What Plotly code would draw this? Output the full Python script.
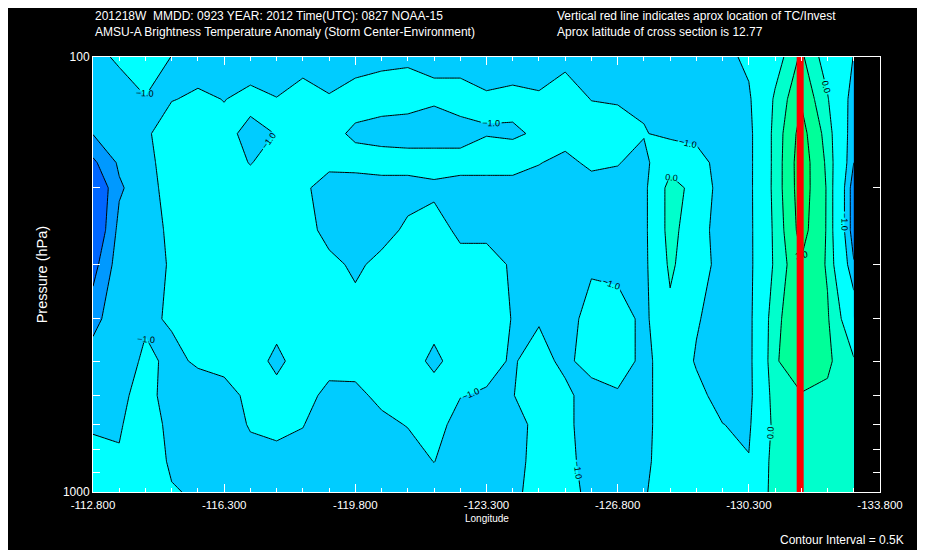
import plotly.graph_objects as go

# ---- grid (longitude columns, pressure levels) ----
lon = [-112.8, -113.5, -114.2, -114.9, -115.6, -116.3, -117.0, -117.7, -118.4, -119.1,
       -119.8, -120.5, -121.2, -121.9, -122.6, -123.3, -124.0, -124.7, -125.4, -126.1,
       -126.8, -127.5, -128.2, -128.9, -129.6, -130.3, -131.0, -131.7, -132.4, -133.1]
pressure = [100, 125, 150, 175, 200, 250, 300, 400, 500, 600, 700, 850, 1000]

# ---- brightness temperature anomaly (K) per pressure level ----
t100 = [-1.25, -0.87, -0.75, -1.01, -1.2, -1.15, -1.2, -1.2, -1.2, -1.2, -1.2, -1.1, -1.05, -1.05, -1.2,
        -1.2, -1.2, -1.2, -1.1, -1.1, -1.2, -1.25, -1.25, -1.25, -1.2, -0.86, -0.3, 0.6, -0.3, -1.02]
t125 = [-1.35, -1.4, -1.02, -1.02, -0.93, -1.01, -0.9, -0.99, -0.8, -0.97, -0.8, -0.8, -0.85, -0.95, -0.8,
        -0.95, -0.9, -0.95, -0.82, -1.01, -1.03, -1.1, -1.25, -1.25, -1.25, -1.1, 0.1, 0.95, 0.05, -1.3]
t150 = [-1.48, -1.3, -1.08, -0.73, -0.8, -0.9, -1.1, -0.99, -0.75, -0.85, -1.09, -1.2, -1.2, -1.2, -1.2,
        -1.02, -1.05, -0.95, -0.8, -0.8, -0.85, -0.96, -1.17, -1.2, -1.25, -1.2, 0.2, 1.2, 0.3, -1.4]
t175 = [-2.11, -1.42, -1.15, -0.76, -0.75, -0.8, -1.02, -0.8, -0.75, -0.8, -0.8, -0.75, -0.8, -0.8, -0.8,
        -0.8, -0.8, -0.98, -1.13, -0.9, -0.97, -1.2, -0.3, -0.7, -1.3, -1.2, 0.2, 1.3, 0.4, -1.5]
t200 = [-2.6, -1.57, -1.2, -0.8, -0.7, -0.7, -0.8, -0.75, -0.85, -1.35, -1.3, -1.25, -1.2, -1.1, -1.2,
        -1.2, -1.2, -1.2, -1.2, -1.2, -1.2, -1.2, 0.3, -0.25, -1.45, -1.2, 0.21, 1.28, 0.45, -1.8]
t250 = [-2.6, -1.35, -1.2, -0.91, -0.7, -0.7, -0.7, -0.7, -0.75, -1.2, -1.3, -1.2, -0.9, -0.8, -1.1,
        -1.1, -1.25, -1.25, -1.25, -1.25, -1.25, -1.2, 0.3, -0.6, -1.4, -1.2, 0.15, 1.2, 0.45, -1.8]
t300 = [-2.2, -1.24, -1.2, -0.95, -0.7, -0.7, -0.7, -0.7, -0.7, -0.85, -1.1, -0.85, -0.75, -0.75, -0.84,
        -0.84, -1.05, -1.25, -1.25, -1.1, -1.25, -1.2, 0.15, -0.6, -1.3, -1.2, 0.12, 0.95, 0.45, -1.45]
t400 = [-1.7, -1.1, -1.05, -0.97, -0.75, -0.7, -0.7, -0.85, -0.7, -0.75, -0.8, -0.75, -0.75, -0.85, -0.75,
        -0.75, -1.02, -1.05, -1.3, -0.72, -0.6, -1.2, -0.2, -0.95, -1.25, -1.2, 0.4, 0.8, 0.55, -0.5]
t500 = [-1.22, -1.2, -0.93, -1.07, -0.96, -0.8, -0.8, -1.1, -0.8, -0.8, -0.85, -0.75, -0.8, -1.1, -0.8,
        -0.85, -1.05, -0.78, -1.15, -0.72, -0.6, -1.2, -0.6, -1.05, -1.25, -1.2, 0.45, 0.8, 0.6, 0.05]
t600 = [-1.15, -1.12, -0.8, -1.25, -1.15, -1.23, -0.85, -0.85, -0.8, -1.15, -1.1, -0.9, -0.85, -0.8, -0.98,
        -1.05, -1.02, -0.7, -0.85, -1.3, -1.1, -1.2, -0.6, -0.85, -1.2, -1.2, 0.3, 0.47, 0.4, 0.2]
t700 = [-1.05, -1.05, -0.7, -1.16, -1.25, -1.3, -0.95, -0.92, -0.98, -1.3, -1.3, -1.1, -0.98, -0.8, -1.2,
        -1.25, -1.4, -0.7, -0.9, -1.2, -1.2, -1.15, -0.7, -0.7, -0.99, -1.1, 0.2, 0.3, 0.3, 0.2]
t850 = [-0.86, -0.95, -0.6, -1.1, -1.25, -1.3, -1.2, -1.1, -1.2, -1.3, -1.3, -1.3, -1.2, -0.99, -1.25,
        -1.3, -1.3, -0.7, -0.85, -1.2, -1.25, -1.1, -0.75, -0.6, -0.8, -0.97, 0.3, 0.3, 0.3, 0.2]
t1000 = [-0.75, -0.8, -0.75, -0.95, -1.08, -1.2, -1.3, -1.3, -1.3, -1.3, -1.3, -1.3, -1.3, -1.25, -1.3,
         -1.3, -1.15, -0.75, -0.8, -1.14, -1.25, -1.05, -0.7, -0.6, -0.7, -0.7, 0.25, 0.3, 0.3, 0.2]

anomaly = [t100, t125, t150, t175, t200, t250, t300, t400, t500, t600, t700, t850, t1000]

storm_lon = -131.67

xtick_vals = [-112.8, -116.3, -119.8, -123.3, -126.8, -130.3, -133.8]
xtick_text = ["-112.800", "-116.300", "-119.800", "-123.300", "-126.800", "-130.300", "-133.800"]
ytick_vals = [100, 200, 300, 400, 500, 600, 700, 800, 900, 1000]
ytick_text = ["100", "", "", "", "", "", "", "", "", "1000"]

# shading colours for bands: <-2, -2..-1.5, -1.5..-1, -1..-0.5, -0.5..0, 0..0.5, 0.5..1, >1
shade_colors = ["#0066FF", "#0099FF", "#00CCFF", "#00FFFF", "#00FFFF", "#00FFCC", "#00FF99", "#00FF66"]
colorscale = []
n = len(shade_colors)
for i, c in enumerate(shade_colors):
    colorscale.append([i / n, c])
    colorscale.append([(i + 1) / n, c])

FONT = "Liberation Sans"

fig = go.Figure()

# filled bands
fig.add_trace(go.Contour(
    x=lon, y=pressure, z=anomaly, colorscale=colorscale, showscale=False,
    contours=dict(start=-2.0, end=1.5, size=0.5, coloring="fill", showlines=False),
    line=dict(width=0, smoothing=0), hoverinfo="skip"))

common = dict(x=lon, y=pressure, z=anomaly, showscale=False, hoverinfo="skip")
line_style = dict(color="black", width=1, smoothing=0)

fig.add_trace(go.Contour(**common,
    contours=dict(start=-2.0, end=-1.5, size=0.5, coloring="none"), line=line_style))
fig.add_trace(go.Contour(**common,
    contours=dict(start=-1.0, end=1.0, size=1.0, coloring="none", showlabels=True,
                  labelfont=dict(size=9, color="black", family=FONT), labelformat=".1f"),
    line=line_style))
fig.add_trace(go.Contour(**common,
    contours=dict(start=0.5, end=1.5, size=1.0, coloring="none"), line=line_style))

# storm location
fig.add_trace(go.Scatter(x=[storm_lon, storm_lon], y=[100, 1000], mode="lines",
                         line=dict(color="#FF0000", width=7), hoverinfo="skip", showlegend=False))

# page body has an 8px margin, so the figure is 8px smaller and offset accordingly
fig.update_layout(
    width=917, height=542, margin=dict(l=85, r=45, t=49, b=58),
    paper_bgcolor="black", plot_bgcolor="black", showlegend=False,
    font=dict(family=FONT, color="white", size=11))

fig.update_xaxes(
    range=[-112.8, -133.8], tickmode="array", tickvals=xtick_vals, ticktext=xtick_text,
    ticks="inside", ticklen=8, tickwidth=1, tickcolor="white", ticklabelstandoff=2,
    minor=dict(tick0=-112.8, dtick=0.7, ticks="inside", ticklen=4, tickcolor="white", showgrid=False),
    showline=True, linecolor="white", linewidth=1, mirror="allticks",
    showgrid=False, zeroline=False, tickfont=dict(size=11.5, color="white", family=FONT))

fig.update_yaxes(
    type="log", range=[3, 2], tickmode="array", tickvals=ytick_vals, ticktext=ytick_text,
    ticks="inside", ticklen=7, tickwidth=1, tickcolor="white",
    showline=True, linecolor="white", linewidth=1, mirror="allticks",
    showgrid=False, zeroline=False, tickfont=dict(size=12, color="white", family=FONT))

def note(text, x, y, size=12, xanchor="left", angle=0):
    fig.add_annotation(text=text, x=x, y=y, xref="paper", yref="paper", showarrow=False,
                       xanchor=xanchor, yanchor="middle", textangle=angle,
                       font=dict(size=size, color="white", family=FONT))

note("201218W  MMDD: 0923 YEAR: 2012 Time(UTC): 0827 NOAA-15", 0.0, 1.095)
note("AMSU-A Brightness Temperature Anomaly (Storm Center-Environment)", 0.0, 1.058)
note("Vertical red line indicates aprox location of TC/Invest", 0.587, 1.095)
note("Aprox latitude of cross section is 12.77", 0.587, 1.058)
note("Longitude", 0.5, -0.062, size=10, xanchor="center")
note("Pressure (hPa)", -0.065, 0.5, size=14.5, xanchor="center", angle=-90)
note("Contour Interval = 0.5K", 1.033, -0.110, size=12, xanchor="right")

fig.write_html("out.html")
